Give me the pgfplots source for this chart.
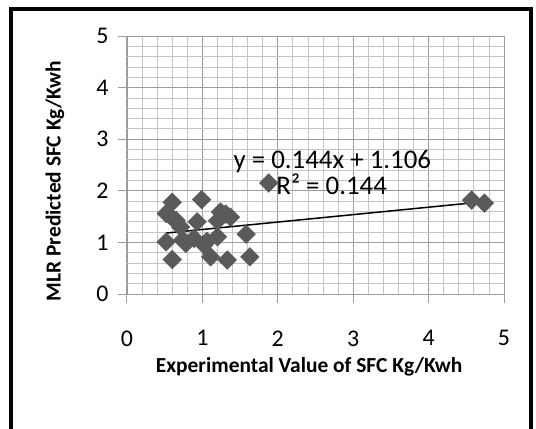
\documentclass[border=0pt]{standalone}
\usepackage{pgfplots}
\pgfplotsset{compat=1.18}
\usepackage{fontspec}
\setmainfont{Carlito}
\definecolor{markgray}{HTML}{5A5A5A}
\definecolor{majgrid}{HTML}{9C9C9C}
\definecolor{mingrid}{HTML}{C4C4C4}
\begin{document}
\begin{tikzpicture}[x=1bp,y=1bp]
\begin{axis}[
    width=377bp, height=258bp, scale only axis,
    xmin=0, xmax=5, ymin=0, ymax=5,
    xtick={0,...,5}, ytick={0,...,5},
    minor tick num=4,
    grid=both,
    major grid style={majgrid, line width=0.9bp},
    minor grid style={mingrid, line width=0.8bp},
    axis line style={majgrid, line width=1bp},
    axis x line*=bottom, axis y line*=left,
    tick align=outside,
    major tick length=9bp, minor tick length=0pt,
    tick style={majgrid, line width=1bp},
    /pgf/number format/assume math mode=true,
    tick label style={font=\fontsize{24}{26}\selectfont},
    xticklabel style={yshift=-24bp},
    yticklabel style={xshift=-6bp},
    label style={font=\bfseries\fontsize{21.5}{23}\selectfont},
    xlabel={Experimental Value of SFC Kg/Kwh},
    ylabel={MLR Predicted SFC Kg/Kwh},
    xlabel style={at={(axis description cs:0.483,-0.283)}, anchor=center},
    ylabel style={at={(axis description cs:-0.191,0.438)}, anchor=center},
    clip=false,
]
\addplot[only marks, mark=square*, mark size=6.6bp,
    mark options={rotate=45, fill=markgray, draw=markgray}] coordinates {
    (0.60,1.78) (0.99,1.83) (1.88,2.15) (4.57,1.82) (4.74,1.76)
    (0.52,1.56) (0.58,1.50) (0.65,1.43) (0.71,1.30) (0.93,1.40)
    (1.24,1.59) (1.37,1.49) (1.31,1.55) (1.20,1.42)
    (0.52,1.01) (0.78,0.98) (0.89,1.08) (1.02,0.95) (1.20,1.11)
    (1.11,0.72) (1.33,0.66) (0.60,0.67) (1.58,1.16) (1.63,0.72)
    (0.74,1.05) (1.06,1.02)
};
\addplot[black, line width=1.5bp] coordinates {(0.52,1.181) (4.74,1.789)};
\node[anchor=base west, font=\fontsize{27}{29}\selectfont, inner sep=0pt] at (axis cs:1.41,2.44) {y = 0.144x + 1.106};
\node[anchor=base west, font=\fontsize{27}{29}\selectfont, inner sep=0pt] at (axis cs:1.98,1.92) {R² = 0.144};
\end{axis}
\path[use as bounding box] (-127,-134) rectangle (409,294);
\draw[line width=4bp] (-116,-140) -- (-116,285.5) -- (403.5,285.5) -- (403.5,-140);
\end{tikzpicture}
\end{document}
